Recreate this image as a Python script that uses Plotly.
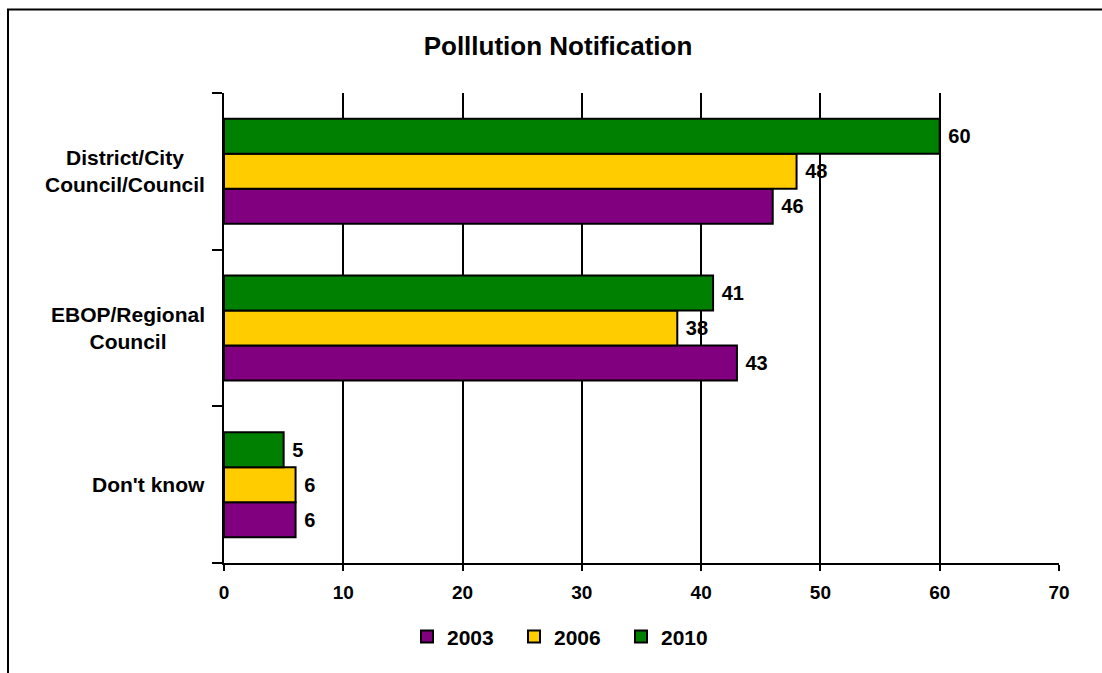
import plotly.graph_objects as go

# Response categories, bottom-to-top order on the value axis
categories = ["Don't know", "EBOP/Regional<br>Council", "District/City<br>Council/Council"]

years = ["2003", "2006", "2010"]
values_2003 = [6, 43, 46]
values_2006 = [6, 38, 48]
values_2010 = [5, 41, 60]

colors = {"2003": "#800080", "2006": "#FFCC00", "2010": "#008000"}
series = {"2003": values_2003, "2006": values_2006, "2010": values_2010}

FONT = "Arial, Liberation Sans, sans-serif"

fig = go.Figure()
for yr in years:
    vals = series[yr]
    fig.add_trace(go.Bar(
        name=yr,
        y=categories,
        x=vals,
        orientation="h",
        marker=dict(color=colors[yr], line=dict(color="black", width=2)),
        text=["\u00a0" + str(v) for v in vals],
        textposition="outside",
        textfont=dict(family=FONT, size=20, color="black", weight="bold"),
        cliponaxis=False,
    ))

# Category labels drawn as centred multi-line annotations beside the axis
for cat in categories:
    fig.add_annotation(
        x=-0.020, xref="paper", xanchor="right",
        y=cat, yref="y", yanchor="middle",
        text=cat, showarrow=False, align="center",
        font=dict(family=FONT, size=21, color="black", weight="bold"),
    )

fig.update_layout(
    width=1102,
    height=673,
    paper_bgcolor="white",
    plot_bgcolor="white",
    barmode="group",
    bargap=0.33,
    bargroupgap=0,
    margin=dict(l=224, r=43, t=93, b=110),
    title=dict(
        text="Polllution Notification",
        x=558 / 1102,
        xanchor="center",
        y=1 - 46 / 673,
        yanchor="middle",
        font=dict(family=FONT, size=26, color="black", weight="bold"),
    ),
    legend=dict(
        orientation="h",
        x=(407 - 224) / 835,
        xanchor="left",
        y=-0.157,
        yanchor="middle",
        font=dict(family=FONT, size=21, color="black", weight="bold"),
        itemwidth=30,
        entrywidth=62,
        entrywidthmode="pixels",
        traceorder="normal",
    ),
    xaxis=dict(
        range=[0, 70],
        dtick=10,
        showgrid=True,
        gridcolor="black",
        gridwidth=2,
        showline=True,
        linecolor="black",
        linewidth=2,
        ticks="outside",
        ticklen=6,
        tickwidth=2,
        tickcolor="black",
        ticklabelstandoff=5,
        zeroline=False,
        tickfont=dict(family=FONT, size=19, color="black", weight="bold"),
    ),
    yaxis=dict(
        categoryorder="array",
        categoryarray=categories,
        showgrid=False,
        showline=True,
        linecolor="black",
        linewidth=2,
        ticks="outside",
        tickson="boundaries",
        ticklen=10,
        tickwidth=2,
        tickcolor="black",
        showticklabels=False,
    ),
    shapes=[
        # outer chart frame
        dict(
            type="rect",
            xref="paper", yref="paper",
            x0=(8 - 224) / 835, x1=(1110 - 224) / 835,
            y0=1 - (690 - 93) / 470, y1=1 - (9.5 - 93) / 470,
            line=dict(color="black", width=2),
            fillcolor="rgba(0,0,0,0)",
            layer="below",
        )
    ],
)

fig.write_html("out.html")
